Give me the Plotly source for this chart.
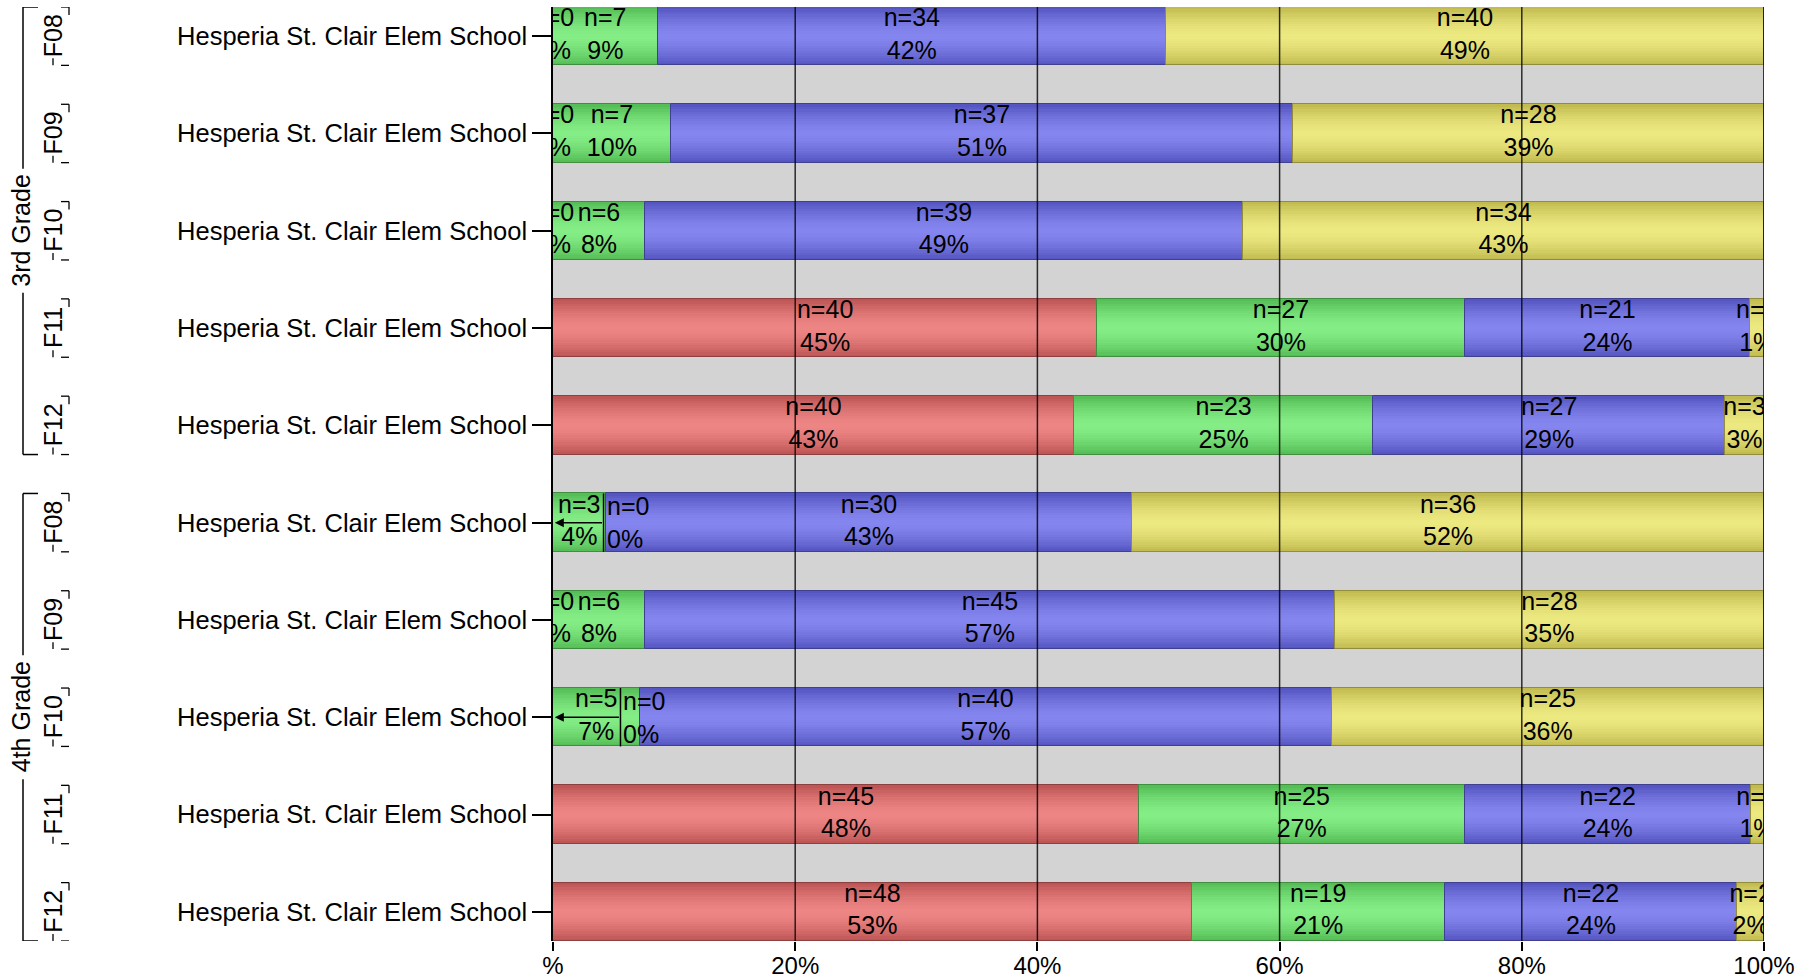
import plotly.graph_objects as go

# ---------------- data ----------------
school = "Hesperia St. Clair Elem School"
terms = ["F08", "F09", "F10", "F11", "F12", "F08", "F09", "F10", "F11", "F12"]
grades = ["3rd Grade", "4th Grade"]
grade_rows = [[0, 1, 2, 3, 4], [5, 6, 7, 8, 9]]

red_n = [0, 0, 0, 40, 40, 0, 0, 0, 45, 48]
green_n = [7, 7, 6, 27, 23, 3, 6, 5, 25, 19]
blue_n = [34, 37, 39, 21, 27, 30, 45, 40, 22, 22]
yellow_n = [40, 28, 34, 1, 3, 36, 28, 25, 1, 2]

# rows whose zero-size first segment label is displaced with a leader arrow
displaced_rows = [5, 7]

x_tickvals = [0, 20, 40, 60, 80, 100]
x_ticktext = ["%", "20%", "40%", "60%", "80%", "100%"]

# ---------------- styling ----------------
series = [
    ("red", red_n, (190, 86, 86), (238, 134, 134)),
    ("green", green_n, (86, 190, 86), (134, 238, 134)),
    ("blue", blue_n, (86, 86, 194), (134, 134, 240)),
    ("yellow", yellow_n, (194, 188, 80), (238, 234, 130)),
]
FONT = "Liberation Sans, Arial, sans-serif"
W, H = 1818, 980
ML, MR, MT, MB = 553, 54, 7, 39
PW = W - ML - MR
BARW = 0.6
ny = len(terms)
ypos = list(range(ny))

totals = [sum(s[1][i] for s in series) for i in range(ny)]

fig = go.Figure()

K = 12
bases_all = []
cum = [0.0] * ny
for name, counts, edge, center in series:
    pct = [counts[i] / totals[i] * 100 for i in range(ny)]
    bases_all.append((list(cum), pct))
    for k in range(K):
        frac = 1 - k / K
        t = frac ** 1.6
        col = tuple(int(round(center[j] + (edge[j] - center[j]) * t)) for j in range(3))
        fig.add_trace(go.Bar(
            orientation="h", y=ypos, x=pct, base=list(cum), width=BARW * frac,
            marker=dict(color="rgb(%d,%d,%d)" % col, line=dict(width=0)),
            hoverinfo="skip", showlegend=False,
        ))
    dark = tuple(int(c * 0.75) for c in edge)
    fig.add_trace(go.Bar(
        orientation="h", y=ypos, x=pct, base=list(cum), width=BARW,
        marker=dict(color="rgba(0,0,0,0)", line=dict(width=1, color="rgb(%d,%d,%d)" % dark)),
        hoverinfo="skip", showlegend=False,
    ))
    cum = [cum[i] + pct[i] for i in range(ny)]

# segment labels
lx, ly, lt = [], [], []
for si, (name, counts, edge, center) in enumerate(series):
    base, pct = bases_all[si]
    for i in range(ny):
        if si == 0 and i in displaced_rows:
            continue
        lx.append(base[i] + pct[i] / 2)
        ly.append(i)
        lt.append("n=%d<br>%d%%" % (counts[i], round(pct[i])))
fig.add_trace(go.Scatter(
    x=lx, y=ly, text=lt, mode="text", textposition="middle center",
    textfont=dict(family=FONT, size=25, color="black"),
    cliponaxis=True, hoverinfo="skip", showlegend=False,
))

shapes = []
annotations = []

# displaced labels with leader arrows
for i in displaced_rows:
    gbase, gpct = bases_all[1]
    gc = gbase[i] + gpct[i] / 2
    line_x = gc + 2.0
    shapes.append(dict(type="line", xref="x", yref="y", x0=line_x, x1=line_x,
                       y0=i - BARW / 2, y1=i + BARW / 2, layer="above",
                       line=dict(color="black", width=1.5)))
    annotations.append(dict(x=0.15, y=i, xref="x", yref="y", ax=line_x, ay=i,
                            axref="x", ayref="y", text="", showarrow=True,
                            arrowhead=2, arrowsize=1.2, arrowwidth=1.5,
                            arrowcolor="black", standoff=0, startstandoff=0))
    annotations.append(dict(x=line_x, y=i, xref="x", yref="y", xanchor="left",
                            xshift=1, yanchor="middle", align="left",
                            text="n=%d<br>%d%%" % (red_n[i], round(bases_all[0][1][i])),
                            showarrow=False,
                            font=dict(family=FONT, size=25, color="black")))

# grid lines drawn above bars
for v in x_tickvals[1:]:
    shapes.append(dict(type="line", xref="x", yref="paper", x0=v, x1=v, y0=0, y1=1,
                       layer="above",
                       line=dict(color="rgba(0,0,0,0.8)" if v < 100 else "black",
                                 width=1.5)))


def px(p):
    return (p - ML) / PW


# hierarchy: grade brackets
UPP = (H - MT - MB) / (ny - 1 + BARW)  # pixels per row unit
for g, rows in zip(grades, grade_rows):
    top = rows[0] - BARW / 2
    bot = rows[-1] + BARW / 2
    mid = (rows[0] + rows[-1]) / 2
    gap = 62 / UPP
    lx0 = px(23)
    shapes.append(dict(type="line", xref="paper", yref="y", x0=lx0, x1=lx0, y0=top, y1=mid - gap,
                       line=dict(color="black", width=1.5)))
    shapes.append(dict(type="line", xref="paper", yref="y", x0=lx0, x1=lx0, y0=mid + gap, y1=bot,
                       line=dict(color="black", width=1.5)))
    shapes.append(dict(type="line", xref="paper", yref="y", x0=lx0, x1=px(38), y0=top, y1=top,
                       line=dict(color="black", width=1.5)))
    shapes.append(dict(type="line", xref="paper", yref="y", x0=lx0, x1=px(38), y0=bot, y1=bot,
                       line=dict(color="black", width=1.5)))
    annotations.append(dict(x=0, xref="paper", xshift=21 - ML, y=mid, yref="y",
                            text=g, textangle=-90, showarrow=False,
                            xanchor="center", yanchor="middle",
                            font=dict(family=FONT, size=25, color="black")))

# hierarchy: term labels with small bracket caps
for i, t in enumerate(terms):
    top = i - BARW / 2
    bot = i + BARW / 2
    annotations.append(dict(x=0, xref="paper", xshift=53 - ML, y=i, yref="y",
                            text=t, textangle=-90, showarrow=False,
                            xanchor="center", yanchor="middle",
                            font=dict(family=FONT, size=25, color="black")))
    c = dict(color="black", width=1.3)
    shapes.append(dict(type="line", xref="paper", yref="y", x0=px(61), x1=px(69), y0=top, y1=top, line=c))
    shapes.append(dict(type="line", xref="paper", yref="y", x0=px(69), x1=px(69), y0=top, y1=top + 8 / UPP, line=c))
    shapes.append(dict(type="line", xref="paper", yref="y", x0=px(61), x1=px(69), y0=bot, y1=bot, line=c))
    shapes.append(dict(type="line", xref="paper", yref="y", x0=px(53), x1=px(53), y0=bot - 7 / UPP, y1=bot, line=c))

fig.update_layout(
    width=W, height=H,
    margin=dict(l=ML, r=MR, t=MT, b=MB, autoexpand=False),
    paper_bgcolor="white",
    plot_bgcolor="rgb(211,211,211)",
    barmode="overlay",
    bargap=0,
    showlegend=False,
    shapes=shapes,
    annotations=annotations,
    font=dict(family=FONT, color="black"),
    xaxis=dict(range=[0, 100], tickvals=x_tickvals, ticktext=x_ticktext,
               ticks="outside", ticklen=9, tickwidth=1.5, tickcolor="black",
               ticklabelstandoff=-6,
               showgrid=False, zeroline=False, showline=False, automargin=False,
               tickfont=dict(family=FONT, size=24, color="black")),
    yaxis=dict(range=[ny - 1 + BARW / 2, -BARW / 2], tickvals=ypos,
               ticktext=[school] * ny, ticks="outside", ticklen=19, tickwidth=1.5,
               tickcolor="black", showgrid=False, zeroline=False, automargin=False,
               showline=True, linecolor="black", linewidth=1.5,
               tickfont=dict(family=FONT, size=25.5, color="black")),
)

fig.write_html(
    "out.html",
    config={"displayModeBar": False},
    post_script="document.body.style.margin='0';document.body.style.overflow='hidden';",
)
